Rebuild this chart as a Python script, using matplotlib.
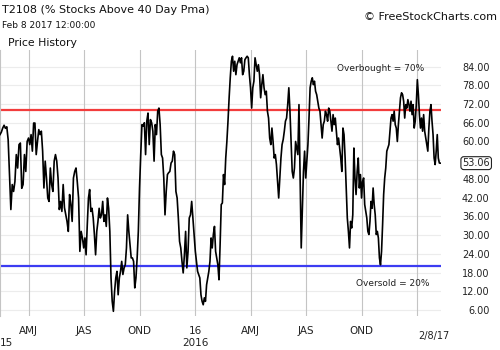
import matplotlib
matplotlib.use("Agg")
import matplotlib.pyplot as plt
import matplotlib.dates as mdates
import numpy as np

# T2108 readings (% of stocks above their 40-day moving average), one list per quarter
q1_2015 = [62.2, 63, 64.3, 65.2, 64.2, 64.7, 60.6, 49.4, 38.2, 46.2, 44, 47.2, 55.8, 51.5,
           59, 59.5, 45, 46.2, 55.8, 50.4, 60]
q2_2015 = [61.1, 59, 62.2, 56.9, 65.9, 65.9, 55.8, 60, 63.8, 62.2, 63.3, 56.9, 45.1, 53.7,
           48.3, 41.9, 40.8, 51.5, 46.2, 44, 53.7, 55.8, 53.7, 48.3, 38.2, 40.8, 37.6, 46.2,
           38.8, 36.5, 34.4, 31.2, 43, 39.8, 34.4, 48.3, 50.4, 51.5, 47, 41.9, 24.8, 31.2, 29.1]
q3_2015 = [25.9, 29.1, 23.7, 33.3, 41.9, 44.6, 37.6, 38.6, 35.5, 30.2, 23.7, 31.2, 34.4, 38.6,
           35.5, 36.5, 40.8, 34.4, 36.5, 32.8, 41.9, 38.6, 31.2, 16.3, 8.8, 5.6, 12, 16.3, 18.4,
           10.9, 16.3, 18.4, 21.6, 17.4, 19.5, 20.5, 25.9, 36.5, 31.2, 27, 22.7, 22.7, 21.6,
           13.1, 16.3, 22.7, 31.2]
q4_2015 = [45.1, 55.8, 65.4, 64.9, 66, 55.8, 66.5, 69.1, 59, 67, 66, 63.3, 53.7, 65.4, 62.2,
           69.7, 70.7, 65.4, 55.8, 54.7, 48.3, 36.5, 44, 49.4, 50, 50.4, 53.1, 53.7, 56.9, 55.8,
           44, 41.9, 35.5, 28, 25.9, 21.6, 17.9, 23.7, 31.2, 19.5, 24.8, 35.5, 36.5, 40.8,
           35.5, 30.2]
q1_2016 = [24.8, 21.6, 18.4, 17.4, 16.3, 10.9, 8.8, 7.7, 9.9, 8.8, 14.1, 16.3, 18.4, 21.6,
           29.1, 25.9, 30.2, 32.8, 24.8, 22.7, 20.5, 15.7, 27, 39.8, 40.3, 49.4, 46.2, 54.7,
           60, 66.5, 74, 80.4, 85.7, 87.3, 82.5, 85.7, 81.4, 84.6, 85.7, 86.8, 85.2, 86.8,
           81.4, 82.5, 86.2, 86.8, 87.3, 86.8, 81.4]
q2_2016 = [77.2, 70.7, 77.2, 79.3, 86.8, 84.6, 82.5, 84.6, 81.4, 74, 78.2, 81.4, 77.2, 75,
           76.1, 69.7, 67.5, 61.1, 59, 64.3, 60, 54.7, 55.8, 52.6, 47.2, 41.9, 48.3, 54.7, 59,
           60.6, 63.3, 66.5, 67.5, 71.8, 77.2, 69.7, 60, 50.4, 48.3, 51.5, 60, 57.9, 55.8,
           71.8, 48.3, 25.9, 37.6, 50.4, 56.9]
q3_2016 = [48.3, 53.7, 59, 67.5, 77.2, 79.3, 80.4, 78.2, 79.3, 76.1, 75, 72.9, 70.7, 69.7,
           65.4, 61.1, 65.4, 66.5, 69.7, 68.6, 66.5, 70.7, 69.7, 66.5, 63.3, 68.6, 65.4, 67.5,
           63.3, 59, 61.1, 57.9, 54.7, 50.4, 64.3, 62.2, 54.7, 45.1, 35.5, 31.2, 25.9, 34.4,
           32.3, 36.5, 57.9, 48.3, 43, 50.4, 54.7, 45.1, 49.4]
q4_2016 = [41.9, 47.2, 48.3, 39.8, 37.6, 35.5, 31.2, 30.2, 34.4, 40.8, 38.6, 45.1, 39.8, 36.5,
           30.2, 31.2, 29.1, 22.7, 20.5, 24.8, 33.3, 43, 48.3, 51.5, 56.9, 57.9, 59, 63.3, 67.5,
           68.6, 66.5, 69.7, 65.4, 64.3, 60, 65.4, 69.7, 74, 75.6, 75, 72.9, 67.5, 71.8, 70.7,
           73.4, 71.8, 69.7, 72.9, 68.6, 71.8, 64.3, 66.5, 71.8]
q1_2017 = [79.8, 75, 68.6, 64.3, 67.5, 63.3, 68.6, 63.3, 61.1, 59, 56.9, 64.3, 69.7, 71.8,
           66.5, 62.2, 54.7, 52.6, 56.9, 62.2, 54.7, 53.1, 53.06]

quarter_starts = ["2015-02-13", "2015-04-01", "2015-07-01", "2015-10-01", "2016-01-01",
                  "2016-04-01", "2016-07-01", "2016-10-01", "2017-01-01"]
last_day = "2017-02-08"
last_value = 53.06

quarter_labels = ["AMJ", "JAS", "OND", "16", "AMJ", "JAS", "OND", ""]
overbought = 70
oversold = 20

segments = [q1_2015, q2_2015, q3_2015, q4_2015, q1_2016, q2_2016, q3_2016, q4_2016, q1_2017]
bounds = [mdates.datestr2num(d) for d in quarter_starts] + [mdates.datestr2num(last_day)]
xs, ys = [], []
for i, seg in enumerate(segments):
    final = i == len(segments) - 1
    xs.extend(np.linspace(bounds[i], bounds[i + 1], len(seg), endpoint=final))
    ys.extend(seg)

fig = plt.figure(figsize=(5, 3.5), dpi=100)
ax = fig.add_axes([0.0, 1 - 316 / 350, 441 / 500, 266 / 350])

ax.axhline(overbought, color="#f23c3c", lw=1.6, zorder=2)
ax.axhline(oversold, color="#3c3cf2", lw=1.6, zorder=2)
ax.plot(xs, ys, color="black", lw=1.2, zorder=3)

ax.set_xlim(mdates.datestr2num("2015-02-13"), mdates.datestr2num("2017-02-09"))
ax.set_ylim(4.1, 89.3)

# grid every 6 points; the 54 label sits under the last-value box
yt = np.arange(6, 85, 6)
ax.set_yticks(yt)
ax.set_yticklabels(["" if v == 54 else "%.2f" % v for v in yt])
ax.yaxis.tick_right()
ax.tick_params(axis="y", length=0, pad=35, labelsize=7, colors="#222222")
for lab in ax.get_yticklabels():
    lab.set_ha("right")
for v in yt:
    ax.axhline(v, color="#ececec", lw=0.8, zorder=0)

ax.set_xticks(bounds[1:-1])
ax.set_xticklabels(quarter_labels)
ax.tick_params(axis="x", length=0, pad=7, labelsize=7.5, colors="#222222")
ax.grid(axis="x", color="#c4c4c4", lw=0.8, zorder=1)
ax.set_axisbelow(True)

for s in ["top", "right", "bottom"]:
    ax.spines[s].set_visible(False)
ax.spines["left"].set_color("#c4c4c4")
ax.spines["left"].set_linewidth(0.8)

ax.text(1 + 49 / 441, last_value, "%.2f" % last_value, transform=ax.get_yaxis_transform(),
        ha="right", va="center", fontsize=7, color="#222222",
        bbox=dict(boxstyle="round,pad=0.15,rounding_size=0.3", fc="white", ec="#222222", lw=0.8))

ax.text(381 / 441, 83.5, "Overbought = 70%", transform=ax.get_yaxis_transform(),
        ha="center", va="center", fontsize=6.5, color="#222222")
ax.text(393 / 441, 14.6, "Oversold = 20%", transform=ax.get_yaxis_transform(),
        ha="center", va="center", fontsize=6.5, color="#222222")

fig.text(2 / 500, 1 - 10 / 350, "T2108 (% Stocks Above 40 Day Pma)", fontsize=8,
         va="center", color="#111111")
fig.text(2 / 500, 1 - 26 / 350, "Feb 8 2017 12:00:00", fontsize=6.5, va="center", color="#111111")
fig.text(8 / 500, 1 - 43 / 350, "Price History", fontsize=7.8, va="center", color="#111111")
fig.text(497 / 500, 1 - 17 / 350, "\u00a9 FreeStockCharts.com", fontsize=8, ha="right",
         va="center", color="#111111")

fig.text(0 / 500, 1 - 343 / 350, "15", fontsize=7.5, va="center", color="#222222")
fig.text(195 / 500, 1 - 343 / 350, "2016", fontsize=7.5, ha="center", va="center", color="#222222")
fig.text(434 / 500, 1 - 336 / 350, "2/8/17", fontsize=7, ha="center", va="center", color="#222222")

fig.savefig("out.png", dpi=100, facecolor="white")
